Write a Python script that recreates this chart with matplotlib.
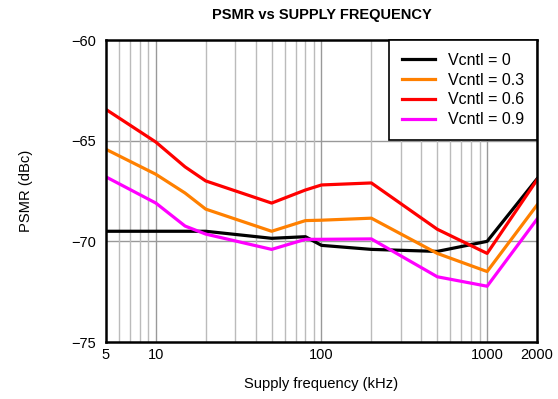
import matplotlib
matplotlib.use("Agg")
import matplotlib.pyplot as plt
from matplotlib.ticker import FixedLocator, NullFormatter, LogLocator

plt.rcParams['font.family'] = ['Liberation Sans', 'DejaVu Sans']

freq = [5, 10, 15, 20, 50, 80, 100, 200, 500, 1000, 2000]
psmr_0 = [-69.5, -69.5, -69.5, -69.5, -69.85, -69.77, -70.2, -70.4, -70.5, -70.0, -66.9]
psmr_03 = [-65.43, -66.67, -67.6, -68.4, -69.5, -68.97, -68.95, -68.85, -70.6, -71.5, -68.2]
psmr_06 = [-63.45, -65.07, -66.3, -67.0, -68.1, -67.45, -67.2, -67.1, -69.4, -70.6, -66.95]
psmr_09 = [-66.8, -68.1, -69.24, -69.64, -70.4, -69.9, -69.9, -69.88, -71.76, -72.23, -68.9]

x_ticks = [5, 10, 100, 1000, 2000]
y_ticks = [-75, -70, -65, -60]

fig = plt.figure(figsize=(5.58, 3.99), dpi=100)
ax = fig.add_axes([106 / 558, 1 - 342 / 399, 431 / 558, 302 / 399])

ax.plot(freq, psmr_0, color="black", lw=2.3, label="Vcntl = 0")
ax.plot(freq, psmr_03, color="#ff8000", lw=2.3, label="Vcntl = 0.3")
ax.plot(freq, psmr_06, color="#ff0000", lw=2.3, label="Vcntl = 0.6")
ax.plot(freq, psmr_09, color="#ff00ff", lw=2.3, label="Vcntl = 0.9")

ax.set_xscale("log")
ax.set_xlim(5, 2000)
ax.set_ylim(-75, -60)
ax.xaxis.set_major_locator(FixedLocator(x_ticks))
ax.xaxis.set_major_formatter(plt.FixedFormatter([str(t) for t in x_ticks]))
ax.xaxis.set_minor_locator(LogLocator(base=10, subs=range(2, 10), numticks=20))
ax.xaxis.set_minor_formatter(NullFormatter())
ax.set_yticks(y_ticks)
ax.set_yticklabels(["\u221275", "\u221270", "\u221265", "\u221260"])

for d in [10, 100, 1000]:
    ax.axvline(d, color="#999999", lw=1.0, zorder=0)
ax.grid(True, which="minor", axis="x", color="#bbbbbb", lw=1.0, zorder=0)
for yv in [-70, -65]:
    ax.axhline(yv, color="#999999", lw=1.0, zorder=0)

ax.tick_params(which="both", length=0, labelsize=10.5, pad=4)
ax.tick_params(axis="y", pad=7)
for s in ax.spines.values():
    s.set_linewidth(1.8)

ax.set_title("PSMR vs SUPPLY FREQUENCY", fontsize=10.5, fontweight="bold", pad=15)
ax.set_xlabel("Supply frequency (kHz)", fontsize=10.6, labelpad=11)
ax.set_ylabel("PSMR (dBc)", fontsize=10.6, labelpad=28)

leg = ax.legend(loc="upper right", fontsize=11.5, fancybox=False, framealpha=1,
                edgecolor="black", borderaxespad=0, handlelength=2.1,
                handletextpad=0.8, labelspacing=0.3, borderpad=0.8)
leg.get_frame().set_linewidth(1.2)

fig.savefig("out.png", dpi=100)
